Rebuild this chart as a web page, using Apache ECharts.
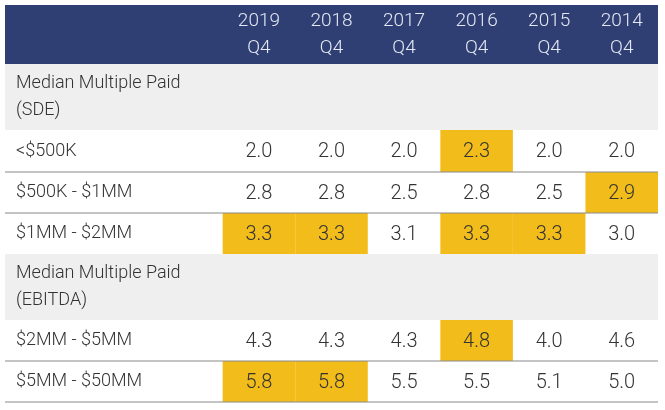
<!DOCTYPE html>
<html>
<head>
<meta charset="utf-8">
<script src="https://cdn.jsdelivr.net/npm/echarts@6/dist/echarts.min.js"></script>
<style>html,body{margin:0;padding:0;background:#fff}#main{width:665px;height:410px}</style>
</head>
<body>
<div id="main"></div>
<script>
// data
var years = ['2019', '2018', '2017', '2016', '2015', '2014'];
var quarter = 'Q4';
var sections = ['Median Multiple Paid\n(SDE)', 'Median Multiple Paid\n(EBITDA)'];
var rowLabels = ['<$500K', '$500K - $1MM', '$1MM - $2MM', '$2MM - $5MM', '$5MM - $50MM'];
var lessThan500K = [2.0, 2.0, 2.0, 2.3, 2.0, 2.0];
var from500KTo1MM = [2.8, 2.8, 2.5, 2.8, 2.5, 2.9];
var from1MMTo2MM = [3.3, 3.3, 3.1, 3.3, 3.3, 3.0];
var from2MMTo5MM = [4.3, 4.3, 4.3, 4.8, 4.0, 4.6];
var from5MMTo50MM = [5.8, 5.8, 5.5, 5.5, 5.1, 5.0];
var rowValues = [lessThan500K, from500KTo1MM, from1MMTo2MM, from2MMTo5MM, from5MMTo50MM];

// layout: row bands (y from top) — header, section, rows...
var bands = [
  {type: 'header', y0: 5, y1: 64},
  {type: 'section', idx: 0, y0: 64, y1: 130},
  {type: 'row', idx: 0, y0: 130, y1: 172, line: true},
  {type: 'row', idx: 1, y0: 172, y1: 213, line: true},
  {type: 'row', idx: 2, y0: 213, y1: 254, line: false},
  {type: 'section', idx: 1, y0: 254, y1: 320},
  {type: 'row', idx: 3, y0: 320, y1: 361, line: true},
  {type: 'row', idx: 4, y0: 361, y1: 402, line: true}
];
var navy = '#2f3f73', yellow = '#f2bc1b', grey = '#efefef';
var font = 'Roboto';

var cellData = [];
bands.forEach(function (b) {
  if (b.type !== 'row') return;
  var vals = rowValues[b.idx];
  var mx = Math.max.apply(null, vals);
  vals.forEach(function (v, i) {
    cellData.push([i, (b.y0 + b.y1) / 2, v, b.y0, b.y1, v === mx ? 1 : 0]);
  });
});

var chart = echarts.init(document.getElementById('main'));
chart.setOption({
  animation: false,
  grid: {left: 5, right: 7, top: 0, bottom: 0},
  xAxis: {type: 'value', min: -3, max: 6, show: false},
  yAxis: {type: 'value', min: 0, max: 410, inverse: true, show: false},
  series: [
    {
      type: 'custom',
      data: bands.map(function (b, i) { return [i, b.y0, b.y1]; }),
      renderItem: function (params, api) {
        var b = bands[api.value(0)];
        var tl = api.coord([-3, b.y0]);
        var br = api.coord([6, b.y1]);
        var children = [];
        var fill = b.type === 'header' ? navy : (b.type === 'section' ? grey : '#fff');
        children.push({type: 'rect', shape: {x: tl[0], y: tl[1], width: br[0] - tl[0], height: br[1] - tl[1]}, style: {fill: fill}});
        if (b.type === 'header') {
          years.forEach(function (yr, i) {
            var c = api.coord([i + 0.5, (b.y0 + b.y1) / 2]);
            children.push({type: 'text', x: c[0], y: c[1], style: {text: yr + '\n' + quarter, fill: '#e4e8f4', font: '300 19px ' + font, lineHeight: 27, align: 'center', verticalAlign: 'middle'}});
          });
        } else {
          var txt = b.type === 'section' ? sections[b.idx] : rowLabels[b.idx];
          children.push({type: 'text', x: tl[0] + 11, y: (tl[1] + br[1]) / 2, style: {text: txt, fill: '#333', font: '300 18px ' + font, lineHeight: 27, verticalAlign: 'middle'}});
        }
        return {type: 'group', children: children};
      },
      z: 1
    },
    {
      type: 'custom',
      data: cellData,
      renderItem: function (params, api) {
        var col = api.value(0);
        var tl = api.coord([col, api.value(3)]);
        var br = api.coord([col + 1, api.value(4)]);
        var c = api.coord([col + 0.5, api.value(1)]);
        var children = [];
        if (api.value(5)) {
          children.push({type: 'rect', shape: {x: tl[0], y: tl[1], width: br[0] - tl[0], height: br[1] - tl[1]}, style: {fill: yellow}});
        }
        children.push({type: 'text', x: c[0], y: c[1] + 1, style: {text: api.value(2).toFixed(1), fill: '#333', font: '300 20px ' + font, align: 'center', verticalAlign: 'middle'}});
        return {type: 'group', children: children};
      },
      z: 2
    },
    {
      type: 'custom',
      data: bands.filter(function (b) { return b.line; }).map(function (b) { return [b.y1]; }),
      renderItem: function (params, api) {
        var a = api.coord([-3, api.value(0)]);
        var b = api.coord([6, api.value(0)]);
        return {type: 'line', shape: {x1: a[0], y1: a[1], x2: b[0], y2: b[1]}, style: {stroke: '#8a8a8a', lineWidth: 1.2}};
      },
      z: 3
    }
  ]
});
</script>
</body>
</html>
